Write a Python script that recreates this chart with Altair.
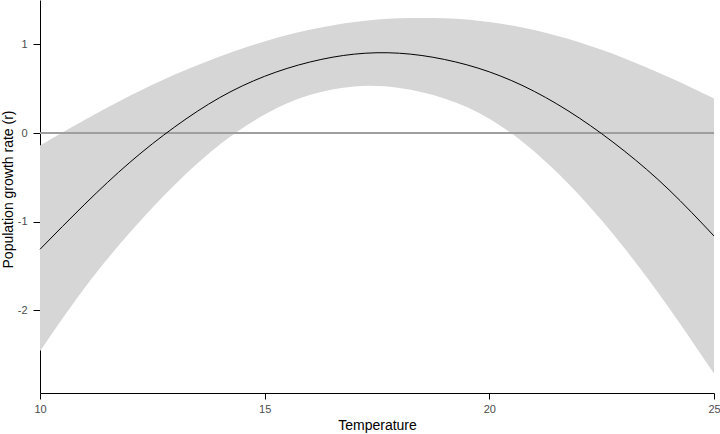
import altair as alt
import pandas as pd

temperature = [10, 11, 12, 13, 14, 15, 16, 17, 18, 19, 20, 21, 22, 23, 24, 25]
growth_fit = [-1.31, -0.80, -0.33, 0.07, 0.40, 0.64, 0.80, 0.89, 0.90, 0.83, 0.69, 0.47, 0.17, -0.20, -0.64, -1.16]
ci_upper = [-0.14, 0.155, 0.425, 0.665, 0.87, 1.04, 1.17, 1.26, 1.30, 1.30, 1.26, 1.17, 1.03, 0.85, 0.635, 0.39]
ci_lower = [-2.46, -1.72, -1.11, -0.57, -0.11, 0.23, 0.45, 0.545, 0.525, 0.405, 0.19, -0.19, -0.68, -1.28, -1.96, -2.71]
x_ticks = [10, 15, 20, 25]
y_ticks = [-2, -1, 0, 1]

df = pd.DataFrame({"T": temperature, "fit": growth_fit, "lo": ci_lower, "hi": ci_upper})

xscale = alt.Scale(domain=[10, 25], nice=False, zero=False)
yscale = alt.Scale(domain=[-2.93, 1.5], nice=False, zero=False)

xaxis = alt.Axis(title="Temperature", values=x_ticks, grid=False, labelFlush=False,
                 labelExpr="datum.value + ''", labelPadding=4, titlePadding=4, tickSize=6)
yaxis = alt.Axis(title="Population growth rate (r)", values=y_ticks, grid=False,
                 labelExpr="datum.value + ''", labelPadding=6, titlePadding=2, tickSize=7,
                 titleY=189)

band = alt.Chart(df).mark_area(color="#d6d6d6", interpolate="basis").encode(
    x=alt.X("T:Q", scale=xscale, axis=xaxis),
    y=alt.Y("lo:Q", scale=yscale, axis=yaxis),
    y2="hi:Q",
)

zero = alt.Chart(df).mark_rule(color="#9e9e9e", strokeWidth=1).encode(
    y=alt.datum(0),
)

line = alt.Chart(df).mark_line(color="black", strokeWidth=1, interpolate="natural").encode(
    x=alt.X("T:Q", scale=xscale),
    y=alt.Y("fit:Q", scale=yscale),
)

chart = alt.layer(band, zero, line).properties(
    width=674,
    height=393,
    autosize=alt.AutoSizeParams(type="none"),
    padding={"left": 40, "top": 0, "right": 6, "bottom": 41},
).configure_view(stroke=None).configure_axis(
    domainColor="black",
    domainWidth=1,
    tickColor="black",
    labelFont="Liberation Sans",
    labelFontSize=11,
    labelColor="#4d4d4d",
    titleFont="Liberation Sans",
    titleFontSize=14,
    titleFontWeight="normal",
    titleColor="black",
)

chart.save("out.html", embed_options={"renderer": "svg", "actions": False})
